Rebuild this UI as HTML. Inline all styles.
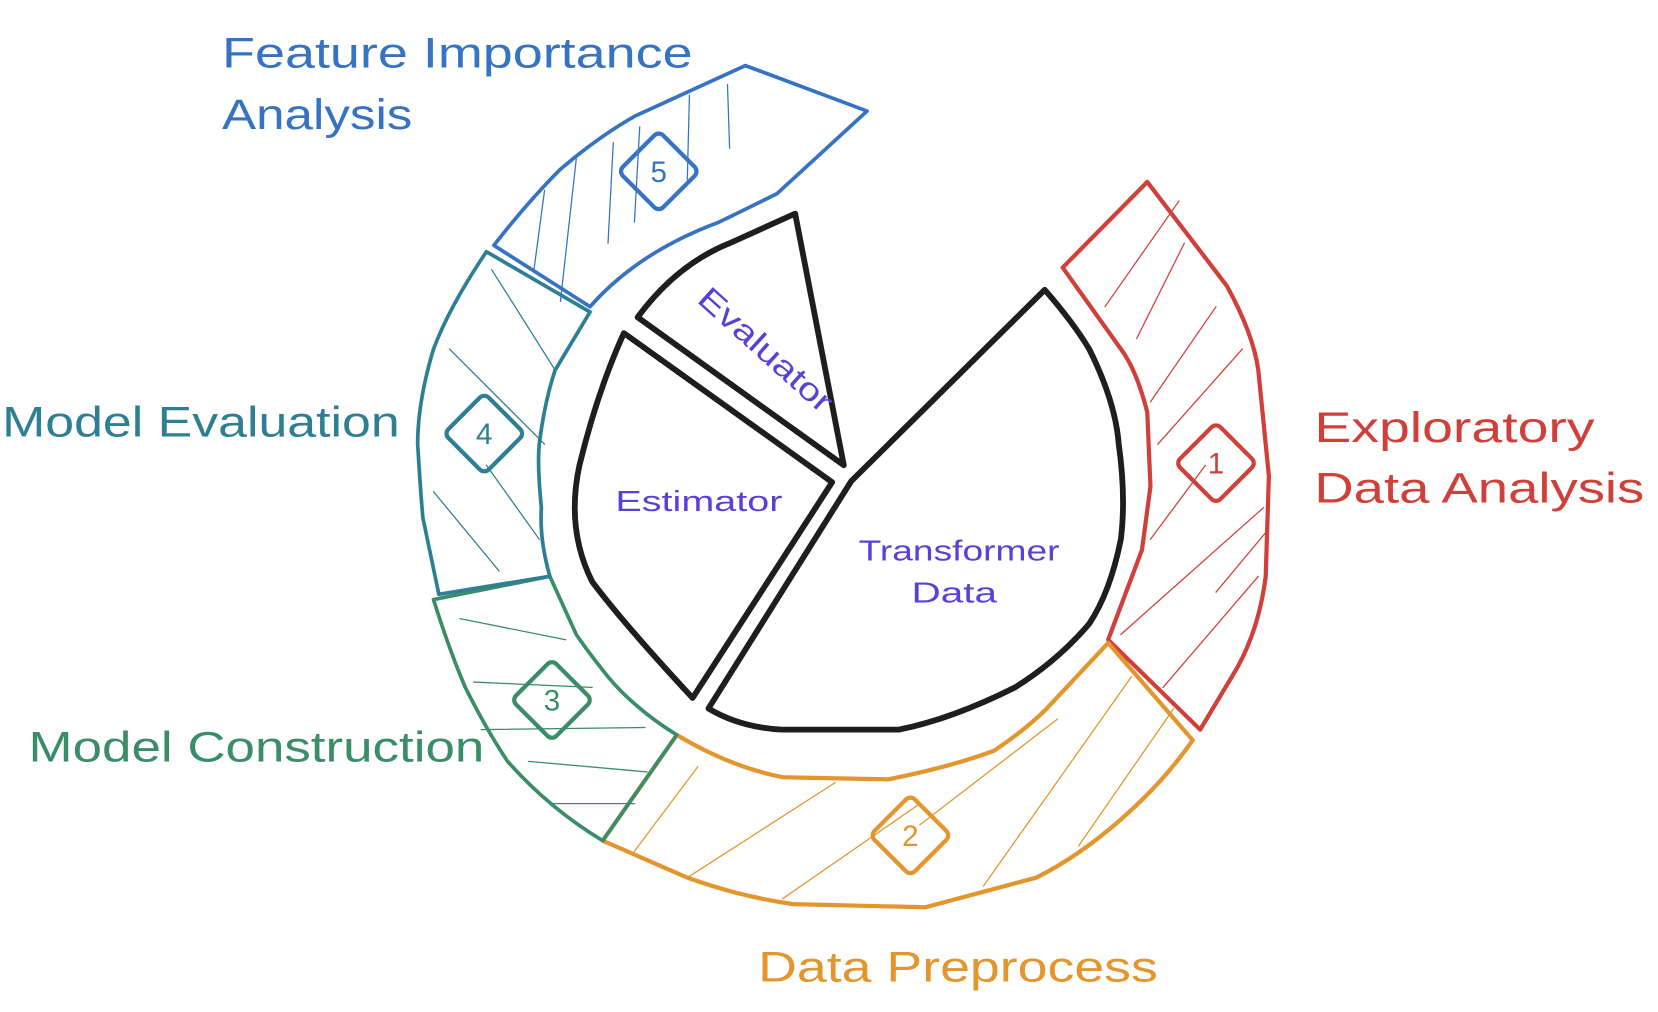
<!DOCTYPE html>
<html><head><style>
html,body{margin:0;padding:0;background:#fff;}
svg{display:block;}
text{font-family:"Liberation Sans",sans-serif;}
</style></head><body>
<svg width="1658" height="1012" viewBox="0 0 1568 957" xmlns="http://www.w3.org/2000/svg">
<g fill="none" stroke-linejoin="round" stroke-linecap="round">
<!-- red -->
<path d="M1085,172 L1160,270 Q1185,315 1190,350 L1200,450 L1197,545 Q1190,600 1165,640 L1135,690 L1048,605 L1080,520 L1088,460 L1085,390 Q1075,350 1060,330 L1005,253 Z" stroke="#d0403b" stroke-width="4"/>
<g stroke="#d0403b" stroke-width="1.2">
<path d="M1045,290 L1115,190 M1075,320 L1120,230 M1088,380 L1150,290 M1095,420 L1175,330 M1088,510 L1140,440 M1060,600 L1195,480 M1100,650 L1190,545 M1150,560 L1200,500"/>
</g>
<!-- orange -->
<path d="M1128,700 Q1100,740 1060,775 Q1020,810 980,830 L875,858 L750,855 Q700,848 650,830 L570,795 L640,695 Q690,725 740,735 L840,737 Q900,725 940,710 Q970,690 990,670 L1048,608 Z" stroke="#e3952e" stroke-width="4"/>
<g stroke="#e3952e" stroke-width="1.2">
<path d="M600,805 L660,725 M650,830 L790,740 M740,850 L870,760 M870,780 L1000,680 M930,838 L1070,640 M1020,800 L1110,670"/>
</g>
<!-- green -->
<path d="M410,567 Q425,615 440,650 Q460,690 480,720 Q520,765 570,795 L640,695 Q600,670 575,640 Q555,615 545,600 L520,545 Z" stroke="#3a8d68" stroke-width="3.5"/>
<g stroke="#3a8d68" stroke-width="1.2">
<path d="M435,585 L535,605 M448,645 L560,650 M455,690 L610,688 M500,720 L612,730 M520,760 L600,760"/>
</g>
<!-- teal -->
<path d="M460,238 Q425,290 410,330 Q395,380 395,420 Q398,470 400,490 L415,562 L520,545 Q510,510 512,480 Q508,440 510,420 Q515,380 525,350 L558,295 Z" stroke="#2e7f94" stroke-width="3.5"/>
<g stroke="#2e7f94" stroke-width="1.2">
<path d="M465,255 L525,350 M425,330 L515,420 M410,465 L472,540 M460,440 L510,510"/>
</g>
<!-- blue -->
<path d="M467,232 Q500,190 530,160 Q565,130 600,110 L705,62 L820,105 L735,183 Q705,198 680,210 Q640,225 610,245 Q580,265 558,290 Z" stroke="#3773c3" stroke-width="3.5"/>
<g stroke="#3773c3" stroke-width="1.2">
<path d="M505,255 L515,180 M530,285 L545,150 M575,230 L580,135 M600,210 L605,120 M650,170 L652,90 M690,140 L688,80"/>
</g>
<!-- black shapes -->
<path d="M603,300 Q640,250 690,230 L752,202 L798,440 Z" stroke="#1e1e1e" stroke-width="5.5"/>
<path d="M590,315 L787,456 L655,660 Q590,590 560,550 Q535,500 548,440 Q565,370 590,315 Z" stroke="#1e1e1e" stroke-width="5.5"/>
<path d="M805,455 L988,274 Q1015,305 1030,330 Q1055,380 1058,420 Q1065,470 1060,510 Q1050,560 1030,590 Q1000,625 960,650 Q900,680 850,690 L740,690 Q700,688 670,670 Z" stroke="#1e1e1e" stroke-width="5.5"/>
<!-- diamonds -->
<rect x="596" y="135" width="54" height="54" rx="6" transform="rotate(45 623 162)" stroke="#3773c3" stroke-width="4"/>
<rect x="431" y="383" width="54" height="54" rx="6" transform="rotate(45 458 410)" stroke="#2e7f94" stroke-width="4"/>
<rect x="495" y="635" width="54" height="54" rx="6" transform="rotate(45 522 662)" stroke="#3a8d68" stroke-width="4"/>
<rect x="834" y="763" width="54" height="54" rx="6" transform="rotate(45 861 790)" stroke="#e3952e" stroke-width="4"/>
<rect x="1123" y="411" width="54" height="54" rx="6" transform="rotate(45 1150 438)" stroke="#d0403b" stroke-width="4"/>
</g>
<g font-size="28" text-anchor="middle">
<text x="623" y="172" fill="#3773c3">5</text>
<text x="458" y="420" fill="#2e7f94">4</text>
<text x="522" y="672" fill="#3a8d68">3</text>
<text x="861" y="800" fill="#e3952e">2</text>
<text x="1150" y="448" fill="#d0403b">1</text>
</g>
<g font-size="40" lengthAdjust="spacingAndGlyphs">
<text x="210" y="64" fill="#3773c3" textLength="445" lengthAdjust="spacingAndGlyphs">Feature Importance</text>
<text x="210" y="122" fill="#3773c3" textLength="180" lengthAdjust="spacingAndGlyphs">Analysis</text>
<text x="2" y="413" fill="#2e7f94" textLength="376" lengthAdjust="spacingAndGlyphs">Model Evaluation</text>
<text x="27" y="720" fill="#3a8d68" textLength="431" lengthAdjust="spacingAndGlyphs">Model Construction</text>
<text x="717" y="928" fill="#e3952e" textLength="378" lengthAdjust="spacingAndGlyphs">Data Preprocess</text>
<text x="1243" y="418" fill="#d0403b" textLength="265" lengthAdjust="spacingAndGlyphs">Exploratory</text>
<text x="1243" y="475" fill="#d0403b" textLength="312" lengthAdjust="spacingAndGlyphs">Data Analysis</text>
</g>
<g font-size="27" fill="#5b3fd6">
<text x="582" y="483" textLength="158" lengthAdjust="spacingAndGlyphs">Estimator</text>
<text x="812" y="530" textLength="190" lengthAdjust="spacingAndGlyphs">Transformer</text>
<text x="862" y="570" textLength="81" lengthAdjust="spacingAndGlyphs">Data</text>
<text x="0" y="0" transform="translate(664,278) rotate(42)" dy="9" font-size="30" textLength="160" lengthAdjust="spacingAndGlyphs">Evaluator</text>
</g>
</svg>
</body></html>
